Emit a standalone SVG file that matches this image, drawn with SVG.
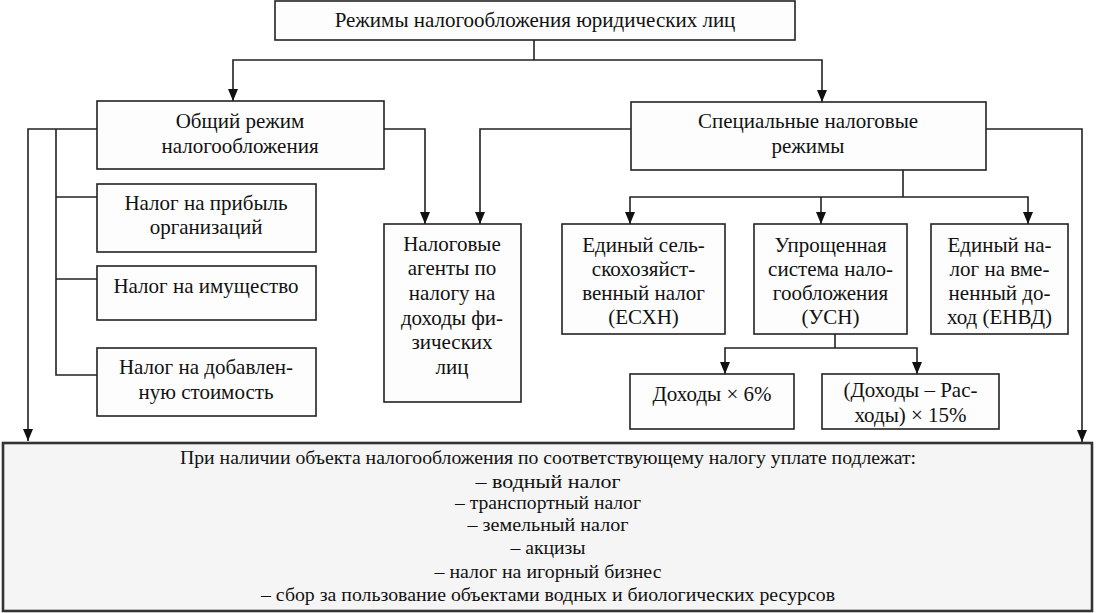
<svg xmlns="http://www.w3.org/2000/svg" width="1096" height="613" viewBox="0 0 1096 613">
<defs>
<marker id="arr" markerUnits="userSpaceOnUse" markerWidth="12" markerHeight="10" refX="12" refY="5" orient="auto" viewBox="0 0 12 10">
<path d="M0,0 L12,5 L0,10 Z" fill="#111"/>
</marker>
<style>
.box{fill:#fdfdfd;stroke:#222;stroke-width:1.6}
.big{fill:#f5f5f5;stroke:#333;stroke-width:2.6}
.t{font-family:"Liberation Serif","Times New Roman",serif;font-size:21px;fill:#111;text-anchor:middle}
.s{font-family:"Liberation Serif","Times New Roman",serif;font-size:18px;fill:#111;text-anchor:middle}
.c{fill:none;stroke:#222;stroke-width:1.6}
.a{fill:none;stroke:#222;stroke-width:1.6;marker-end:url(#arr)}
</style>
</defs>
<rect width="1096" height="613" fill="#ffffff"/>
<g id="connectors">
<path class="c" d="M534,40 V60"/>
<path class="a" d="M534,60 H233 V101"/>
<path class="a" d="M534,60 H822 V102"/>
<path class="a" d="M97,129 H28 V441"/>
<path class="c" d="M56,129 V375 H97"/>
<path class="c" d="M56,197 H97"/>
<path class="c" d="M56,279 H97"/>
<path class="a" d="M384,129 H425 V224"/>
<path class="a" d="M631,129 H480 V224"/>
<path class="a" d="M986,129 H1082 V442"/>
<path class="c" d="M903,170 V197"/>
<path class="a" d="M903,197 H630 V224"/>
<path class="a" d="M821,197 V224"/>
<path class="a" d="M903,197 H1028 V224"/>
<path class="c" d="M835,334 V348"/>
<path class="a" d="M835,348 H725 V374"/>
<path class="a" d="M835,348 H917 V374"/>
</g>
<g id="n-top">
<rect class="box" x="275" y="1" width="520" height="39"/>
<text class="t" x="535" y="27">Режимы налогообложения юридических лиц</text>
</g>
<g id="n-general">
<rect class="box" x="97" y="101" width="287" height="68"/>
<text class="t" x="240" y="128">Общий режим</text>
<text class="t" x="240" y="153">налогообложения</text>
</g>
<g id="n-special">
<rect class="box" x="631" y="102" width="355" height="68"/>
<text class="t" x="808" y="128">Специальные налоговые</text>
<text class="t" x="808" y="153">режимы</text>
</g>
<g id="n-profit">
<rect class="box" x="97" y="184" width="219" height="68"/>
<text class="t" x="206" y="210">Налог на прибыль</text>
<text class="t" x="206" y="234">организаций</text>
</g>
<g id="n-property">
<rect class="box" x="97" y="266" width="219" height="54"/>
<text class="t" x="206" y="293">Налог на имущество</text>
</g>
<g id="n-vat">
<rect class="box" x="97" y="348" width="219" height="68"/>
<text class="t" x="206" y="374">Налог на добавлен-</text>
<text class="t" x="206" y="399">ную стоимость</text>
</g>
<g id="n-agents">
<rect class="box" x="384" y="224" width="137" height="178"/>
<text class="t" x="452" y="251">Налоговые</text>
<text class="t" x="452" y="275">агенты по</text>
<text class="t" x="452" y="300">налогу на</text>
<text class="t" x="452" y="325">доходы фи-</text>
<text class="t" x="452" y="349">зических</text>
<text class="t" x="452" y="374">лиц</text>
</g>
<g id="n-eshn">
<rect class="box" x="562" y="224" width="163" height="110"/>
<text class="t" x="643.5" y="252">Единый сель-</text>
<text class="t" x="643.5" y="276">скохозяйст-</text>
<text class="t" x="643.5" y="300">венный налог</text>
<text class="t" x="643.5" y="324">(ЕСХН)</text>
</g>
<g id="n-usn">
<rect class="box" x="754" y="224" width="153" height="110"/>
<text class="t" x="830.5" y="252">Упрощенная</text>
<text class="t" x="830.5" y="276">система нало-</text>
<text class="t" x="830.5" y="300">гообложения</text>
<text class="t" x="830.5" y="324">(УСН)</text>
</g>
<g id="n-envd">
<rect class="box" x="931" y="224" width="137" height="110"/>
<text class="t" x="999.5" y="252">Единый на-</text>
<text class="t" x="999.5" y="276">лог на вме-</text>
<text class="t" x="999.5" y="300">ненный до-</text>
<text class="t" x="999.5" y="324">ход (ЕНВД)</text>
</g>
<g id="n-income6">
<rect class="box" x="630" y="374" width="164" height="55"/>
<text class="t" x="712" y="401">Доходы × 6%</text>
</g>
<g id="n-income15">
<rect class="box" x="822" y="374" width="177" height="55"/>
<text class="t" x="910.5" y="397">(Доходы – Рас-</text>
<text class="t" x="910.5" y="422">ходы) × 15%</text>
</g>
<g id="n-other">
<rect class="big" x="3" y="443" width="1089" height="168"/>
<text class="s" x="548" y="464" textLength="736" lengthAdjust="spacingAndGlyphs">При наличии объекта налогообложения по соответствующему налогу уплате подлежат:</text>
<text class="s" x="548" y="488" textLength="145" lengthAdjust="spacingAndGlyphs">– водный налог</text>
<text class="s" x="548" y="509" textLength="186" lengthAdjust="spacingAndGlyphs">– транспортный налог</text>
<text class="s" x="548" y="531" textLength="161" lengthAdjust="spacingAndGlyphs">– земельный налог</text>
<text class="s" x="548" y="554" textLength="75" lengthAdjust="spacingAndGlyphs">– акцизы</text>
<text class="s" x="548" y="578" textLength="227" lengthAdjust="spacingAndGlyphs">– налог на игорный бизнес</text>
<text class="s" x="548" y="601" textLength="574" lengthAdjust="spacingAndGlyphs">– сбор за пользование объектами водных и биологических ресурсов</text>
</g>
</svg>
